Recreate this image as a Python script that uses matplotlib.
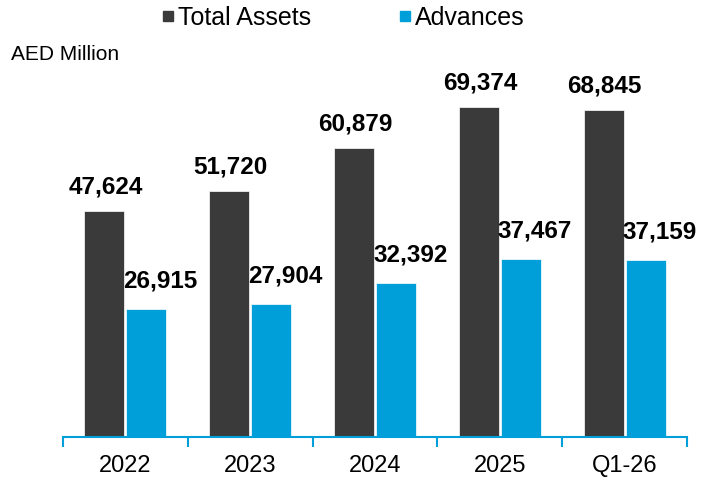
import numpy as np
import matplotlib.pyplot as plt
from matplotlib.lines import Line2D

# ===== data =====
periods = ['2022', '2023', '2024', '2025', 'Q1-26']
total_assets = [47624, 51720, 60879, 69374, 68845]
advances = [26915, 27904, 32392, 37467, 37159]

dark = '#3a3a3a'
blue = '#009fda'

plt.rcParams['font.family'] = ['Liberation Sans', 'DejaVu Sans']

fig = plt.figure(figsize=(7.05, 4.79), dpi=100)
ax = fig.add_axes([63 / 705, 1 - 437 / 479, (687 - 63) / 705, (437 - 57) / 479])

x = np.arange(len(periods))
w = 0.32
ax.bar(x - w / 2 - 0.008, total_assets, w, color=dark, edgecolor='white', linewidth=0.5)
ax.bar(x + w / 2 + 0.008, advances, w, color=blue, edgecolor='white', linewidth=0.5)

# value labels
for i in range(len(periods)):
    ax.annotate('{:,}'.format(total_assets[i]), (x[i] - w / 2, total_assets[i]),
                xytext=(0, 9), textcoords='offset points', ha='center', va='bottom',
                fontsize=17.5, fontweight='bold')
    ax.annotate('{:,}'.format(advances[i]), (x[i] + w / 2, advances[i]),
                xytext=(11, 12), textcoords='offset points', ha='center', va='bottom',
                fontsize=17.5, fontweight='bold')

ax.set_xlim(-0.5, len(periods) - 0.5)
ax.set_ylim(0, 80000)
ax.set_yticks([])
for s in ['top', 'right', 'left']:
    ax.spines[s].set_visible(False)
ax.spines['bottom'].set_color(blue)
ax.spines['bottom'].set_linewidth(1.5)

ax.set_xticks(x)
ax.set_xticklabels(periods, fontsize=17)
ax.tick_params(axis='x', which='major', length=0, pad=13)
ax.set_xticks(np.arange(-0.5, len(periods)), minor=True)
ax.tick_params(axis='x', which='minor', length=7, width=1.5, color=blue, direction='out')

handles = [Line2D([], [], marker='s', linestyle='none', color=dark, markersize=7),
           Line2D([], [], marker='s', linestyle='none', color=blue, markersize=7)]
fig.legend(handles, ['Total Assets', 'Advances'], loc='center', bbox_to_anchor=(0.485, 0.963),
           ncol=2, frameon=False, fontsize=18, handletextpad=0.05, columnspacing=3.4,
           handlelength=0.7)

fig.text(11 / 705, 1 - 55 / 479, 'AED Million', fontsize=15, va='center', ha='left')

plt.savefig('out.png', dpi=100)
